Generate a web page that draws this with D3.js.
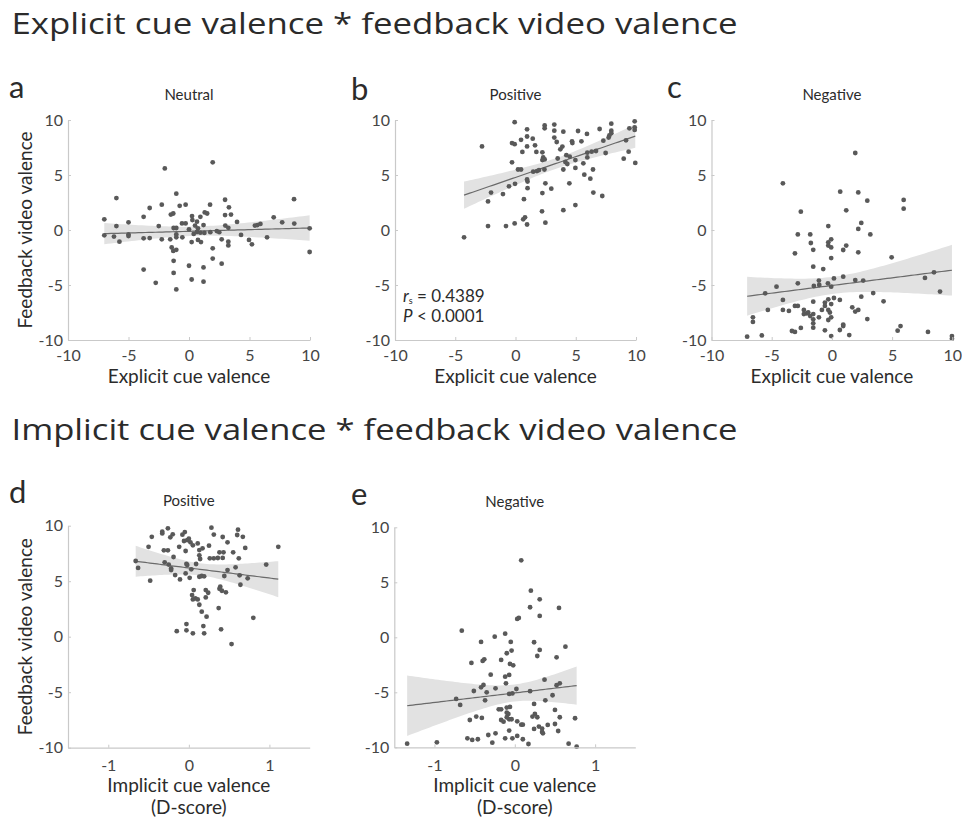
<!DOCTYPE html>
<html>
<head>
<meta charset="utf-8">
<script src="https://cdn.jsdelivr.net/npm/d3@7"></script>
<style>
  html, body { margin: 0; padding: 0; background: #fff; }
  svg { display: block; font-family: Lato, "Open Sans", sans-serif; }
</style>
</head>
<body>
<svg id="fig" width="962" height="823"></svg>
<script>
// Explicit cue valence vs feedback video valence, Neutral cues
const neutralPts = [
  [-7.0,0.97],[-6.0,2.9],[-6.0,0.36],[-5.0,0.7],[-3.75,1.2],[-3.25,2.0],[-2.5,0.36],[-2.25,2.3],
  [-2.0,5.6],[-1.5,1.4],[-1.3,1.5],[-1.05,3.3],[-0.77,2.2],[-0.28,2.3],[-1.27,0.18],[-1.05,0.18],
  [-0.58,0.6],[-0.28,0.6],[0,0.06],[0.25,1.27],[0.28,0.9],[0.5,0.4],[0.66,0.76],[0.74,0.15],
  [0.94,1.2],[1.2,0.45],[1.3,1.6],[1.5,1.5],[1.74,2.3],[1.96,6.15],[2.98,2.75],[2.98,1.36],
  [3.3,2.06],[3.47,1.4],[3.0,0.4],[3.25,0.2],[3.97,0.73],[5.45,0.4],[5.65,0.45],[5.9,0.55],
  [7.0,1.15],[7.7,0.7],[8.68,2.8],[8.7,0.58],[9.97,0.15],
  [-1.05,-0.4],[0.39,-0.36],[0.66,-0.18],[0.94,-0.24],[1.27,-0.27],[1.76,-0.2],[2.3,-0.1],[2.5,-0.2],
  [-7.0,-0.48],[-6.2,-0.6],[-5.75,-1.06],[-5.0,-0.4],[-5.0,-0.55],[-3.75,-0.76],[-3.25,-0.73],
  [-2.25,-0.85],[-1.55,-0.85],[-1.43,-1.58],[-1.3,-1.9],[-1.05,-1.8],[-1.05,-0.67],[-0.55,-0.67],
  [-1.27,-2.8],[-1.27,-3.9],[-3.75,-3.6],[-2.75,-4.8],[-1.05,-5.4],[0,-3.25],[0.22,-4.5],[0.22,-1.1],
  [0.74,-0.9],[0.99,-1.1],[1.2,-3.4],[1.2,-4.7],[1.96,-1.67],[1.96,-2.6],[2.7,-3.06],[2.7,-0.85],
  [3.25,-1.06],[3.25,-1.4],[4.3,-0.45],[4.96,-0.9],[5.2,-1.3],[6.45,-0.67],[9.97,-2.0]
];

// Explicit cue valence vs feedback video valence, Positive cues
const explicitPositivePts = [
  [-4.27,-0.67],[-2.78,7.6],[-2.28,2.6],[-2.28,0.36],[-2.03,3.4],[-1.04,3.27],[-0.79,0.36],[-0.54,3.97],
  [-0.29,6.15],[-0.29,7.9],[-0.07,7.8],[-0.07,9.8],[-0.07,0.6],[-0.04,4.2],[0.21,5.5],[0.46,5.5],
  [0.46,8.2],[0.57,7.1],[0.7,2.8],[0.64,0.97],[0.79,1.15],[0.96,0.5],[0.96,8.5],[0.96,9.15],
  [0.96,7.6],[0.96,4.6],[1.0,4.4],[1.0,3.8],[1.43,8.3],[1.62,7.7],[1.47,5.3],[1.78,5.36],
  [1.95,5.45],[1.73,7.1],[2.2,1.7],[2.23,3.36],[2.23,7.06],[2.23,6.36],[2.3,6.6],[2.4,5.5],
  [2.48,0.67],[2.48,4.24],[2.42,9.5],[2.42,9.24],[2.42,6.42],[2.97,3.76],[3.22,9.58],[3.22,9.03],
  [3.22,8.4],[3.42,8.0],[3.5,6.5],[3.72,7.33],[3.89,7.58],[3.97,8.94],[3.97,5.5],[3.97,1.8],
  [4.14,6.18],[4.22,6.8],[4.3,6.0],[4.5,6.67],[4.47,4.24],[4.69,8.06],[4.72,7.9],[4.97,6.36],
  [4.97,5.64],[4.97,2.27],[5.19,9.0],[5.47,8.06],[5.63,6.06],[5.71,5.03],[5.93,8.73],[5.96,7.03],
  [5.96,6.6],[6.21,4.67],[6.32,7.12],[6.43,5.5],[6.46,3.4],[6.68,7.18],[6.98,9.18],[7.2,3.09],
  [7.29,8.12],[7.48,7.0],[7.73,8.4],[7.79,8.6],[7.95,9.67],[7.95,9.03],[7.95,8.8],[8.98,6.48],
  [9.17,8.15],[9.39,7.12],[9.45,9.24],[9.89,9.88],[9.89,9.33],[9.89,9.1],[9.94,6.1]
];

// Explicit cue valence vs feedback video valence, Negative cues
const explicitNegativePts = [
  [-4.07,4.24],[-2.58,1.67],[-2.83,-0.4],[-1.8,-0.4],[-0.3,0.36],[0.69,3.48],[1.19,1.79],[1.94,7.0],
  [2.19,3.42],[2.44,0.64],[2.19,0.1],[2.94,2.67],[3.19,-0.4],[5.96,2.73],[5.96,1.94],
  [-1.75,-1.18],[-1.55,-1.8],[-3.07,-2.12],[-1.55,-3.33],[-0.72,-3.55],[-0.3,-1.12],[-0.3,-1.42],
  [-0.06,-0.85],[-0.06,-1.58],[-0.06,-2.55],[0.94,-1.82],[1.19,-1.42],[2.19,-2.03],[4.96,-2.48],
  [-4.6,-5.15],[-5.54,-5.76],[-7.04,-9.7],[-6.56,-7.94],[-6.56,-8.36],[-5.82,-9.58],[-5.32,-7.27],
  [-4.07,-6.36],[-4.07,-7.27],[-3.57,-7.36],[-3.32,-9.18],[-3.07,-9.27],[-2.58,-8.9],[-3.07,-6.9],
  [-2.83,-6.9],[-2.83,-4.85],[-2.33,-7.27],[-2.08,-7.58],[-1.97,-7.48],[-2.33,-7.64],[-1.8,-7.82],
  [-1.55,-7.64],[-1.55,-8.12],[-1.55,-8.48],[-1.55,-8.88],[-1.55,-6.52],[-1.5,-5.09],[-1.08,-4.6],
  [-1.05,-5.0],[-1.08,-7.94],[-0.83,-7.27],[-0.58,-6.6],[-0.58,-6.9],[-0.58,-9.12],[-0.33,-4.85],
  [-0.3,-6.3],[-0.3,-8.18],[-0.3,-7.27],[-0.17,-7.5],[-0.06,-5.15],[-0.06,-6.73],[-0.06,-7.94],
  [-0.06,-9.64],[0.17,-4.4],[0.17,-6.18],[0.66,-6.36],[0.66,-9.09],[0.94,-4.24],[0.94,-8.6],
  [0.94,-8.73],[1.44,-9.55],[1.69,-7.03],[1.94,-4.55],[1.94,-7.42],[2.19,-7.27],[2.44,-6.06],
  [2.6,-4.6],[2.94,-8.1],[3.43,-5.73],[4.29,-6.48],[5.46,-9.15],[5.7,-8.73],[7.73,-4.36],
  [7.98,-9.27],[8.48,-3.85],[8.98,-5.6],[9.97,-9.64],[9.97,-9.88]
];

// Implicit cue valence (D-score) vs feedback video valence, Positive cues
const implicitPositivePts = [
  [-0.66,6.82],[-0.63,6.2],[-0.5,8.1],[-0.48,5.05],[-0.46,9.0],[-0.33,9.46],[-0.33,9.3],[-0.31,7.78],
  [-0.26,7.78],[-0.26,9.76],[-0.23,8.95],[-0.2,9.22],[-0.3,6.7],[-0.25,6.5],[-0.22,6.15],[-0.22,6.0],
  [-0.19,7.18],[-0.17,5.55],[-0.11,5.16],[-0.12,8.1],[-0.08,9.19],[-0.05,9.43],[-0.06,8.62],[-0.04,7.72],
  [-0.02,8.7],[0.0,8.83],[0.02,8.5],[0.05,8.23],[-0.03,6.55],[-0.02,6.46],[-0.04,5.7],[0.01,5.3],
  [0.03,6.07],[0.09,6.55],[0.11,8.4],[0.13,7.8],[0.13,7.33],[0.14,7.0],[0.17,7.96],[0.13,5.4],
  [0.16,5.47],[0.19,5.44],[0.06,4.2],[0.04,3.75],[0.05,3.36],[0.08,3.45],[0.11,3.36],[0.13,2.88],
  [0.16,2.25],[0.22,1.8],[0.21,4.2],[0.24,3.96],[0.21,3.54],[0.26,7.06],[0.25,8.2],[0.28,9.82],
  [0.31,9.2],[0.31,7.06],[0.36,7.09],[0.38,7.6],[0.38,4.32],[0.39,4.5],[0.41,4.14],[0.46,4.0],
  [0.42,8.98],[0.48,8.5],[0.43,7.6],[0.42,7.1],[0.44,5.47],[0.48,6.0],[0.37,2.58],[0.55,7.6],
  [0.61,9.64],[0.6,9.16],[0.58,6.25],[0.62,7.06],[0.63,5.53],[0.67,9.0],[0.7,8.0],[0.64,4.68],
  [0.73,5.26],[0.8,1.7],[0.96,6.5],[1.11,8.1],[-0.15,0.5],[-0.03,1.14],[-0.03,0.57],[0.05,0.3],
  [0.18,0.96],[0.19,0.3],[0.4,0.66],[0.53,-0.66]
];

// Implicit cue valence (D-score) vs feedback video valence, Negative cues
const implicitNegativePts = [
  [-0.66,0.6],[-0.42,-0.42],[-0.25,0.06],[-0.12,0.33],[-0.05,-0.42],[0.08,7.0],[0.2,4.24],[0.31,3.45],
  [0.19,2.73],[0.31,1.94],[0.03,1.67],[0.05,1.76],[0.55,2.67],[0.24,-0.45],[0.63,-0.85],
  [0.31,-1.15],[0.28,-1.7],[0.52,-1.82],[-0.1,-1.45],[-0.04,-1.21],[-0.06,-2.42],[-0.02,-2.55],
  [-0.17,-2.06],[-0.38,-2.0],[-0.4,-2.15],[-0.54,-2.33],[-0.3,-3.4],[-0.12,-3.58],[-0.07,-3.42],
  [-0.11,-4.18],[-0.73,-5.6],[-0.68,-6.15],[-0.51,-4.88],[-0.42,-4.55],[-0.39,-4.33],[-0.35,-5.0],
  [-0.24,-4.64],[-0.37,-5.73],[-0.07,-5.15],[-0.03,-5.1],[0.02,-4.7],[0.19,-4.9],[0.37,-3.85],
  [0.47,-5.27],[0.52,-4.36],[0.56,-4.18],[0.38,-5.73],[0.24,-6.06],[0.5,-6.6],[0.56,-7.27],
  [0.25,-6.97],[0.28,-7.27],[0.22,-7.21],[-0.48,-7.21],[-0.41,-7.33],[-0.56,-7.52],[-0.2,-6.55],
  [-0.17,-6.55],[-0.1,-6.39],[-0.06,-6.33],[-0.1,-6.85],[-0.08,-6.97],[-0.1,-7.27],[-0.07,-7.45],
  [-0.04,-7.45],[-0.17,-7.52],[-0.14,-7.67],[0.03,-7.64],[0.08,-7.94],[0.1,-7.94],[-0.07,-8.48],
  [0.3,-8.12],[0.34,-8.3],[0.34,-8.6],[0.35,-8.73],[0.24,-8.33],[0.41,-7.97],[0.5,-7.88],
  [0.54,-8.52],[0.75,-7.36],[-0.46,-9.27],[-0.59,-9.18],[-0.53,-9.33],[-0.33,-8.88],[-0.24,-8.73],
  [-0.28,-9.58],[-0.12,-9.18],[-0.03,-9.18],[0.03,-8.97],[0.1,-9.27],[0.17,-9.7],[0.67,-9.67],
  [0.77,-9.94],[-1.34,-9.67],[-0.97,-9.55]
];

// Axis ticks
const explicitTicks = [-10, -5, 0, 5, 10];
const implicitTicks = [-1, 0, 1];
const valenceTicks = [-10, -5, 0, 5, 10];

// Headings and labels
const sectionTitles = ["Explicit cue valence * feedback video valence", "Implicit cue valence * feedback video valence"];
const panelLetters = ["a", "b", "c", "d", "e"];
const panelTitles = ["Neutral", "Positive", "Negative", "Positive", "Negative"];
const statLines = ["0.4389", "0.0001"];

const svg = d3.select("#fig");

const COL = {
  text: "#2b2b2b",
  tick: "#454545",
  axis: "#c9c9c9",
  dot: "#595959",
  fit: "#6a6a6a",
  band: "#e2e2e2"
};

// Least-squares line with 95% confidence band for the mean response
function regression(pts) {
  const n = pts.length;
  const mx = d3.mean(pts, d => d[0]);
  const my = d3.mean(pts, d => d[1]);
  let sxx = 0, sxy = 0;
  pts.forEach(([x, y]) => { sxx += (x - mx) ** 2; sxy += (x - mx) * (y - my); });
  const b = sxy / sxx, a = my - b * mx;
  let sse = 0;
  pts.forEach(([x, y]) => { sse += (y - a - b * x) ** 2; });
  const s = Math.sqrt(sse / (n - 2));
  const t = 1.987;
  const [x0, x1] = d3.extent(pts, d => d[0]);
  const xs = d3.range(0, 61).map(i => x0 + (x1 - x0) * i / 60);
  return xs.map(x => {
    const yhat = a + b * x;
    const half = t * s * Math.sqrt(1 / n + (x - mx) ** 2 / sxx);
    return { x, y: yhat, lo: yhat - half, hi: yhat + half };
  });
}

const panels = [
  { pts: neutralPts, xDomain: [-10, 10], xTicks: explicitTicks, left: 68, right: 310, top: 120, bottom: 340, yTitle: true, xTitle: ["Explicit cue valence"], lx: 9, ly: 98, ty: 100 },
  { pts: explicitPositivePts, xDomain: [-10, 10], xTicks: explicitTicks, left: 395, right: 636, top: 120, bottom: 340, yTitle: false, xTitle: ["Explicit cue valence"], lx: 351, ly: 100, ty: 100, stats: true },
  { pts: explicitNegativePts, xDomain: [-10, 10], xTicks: explicitTicks, left: 711.5, right: 952.3, top: 120, bottom: 340, yTitle: false, xTitle: ["Explicit cue valence"], lx: 667, ly: 98, ty: 100 },
  { pts: implicitPositivePts, xDomain: [-1.5, 1.5], xTicks: implicitTicks, left: 68, right: 309.7, top: 525.7, bottom: 747.7, yTitle: true, xTitle: ["Implicit cue valence", "(D-score)"], lx: 9, ly: 503, ty: 506 },
  { pts: implicitNegativePts, xDomain: [-1.5, 1.5], xTicks: implicitTicks, left: 394.3, right: 635.3, top: 527.3, bottom: 747.3, yTitle: false, xTitle: ["Implicit cue valence", "(D-score)"], lx: 351, ly: 505, ty: 507 }
];

// Section headings, set to span the figure width
[[33.5, sectionTitles[0]], [440, sectionTitles[1]]].forEach(([yy, t]) => {
  svg.append("text").attr("x", 11.5).attr("y", yy).attr("font-size", 30)
    .attr("font-family", "'Open Sans', Lato, sans-serif").attr("fill", COL.text)
    .attr("textLength", 726).attr("lengthAdjust", "spacingAndGlyphs").text(t);
});

panels.forEach((p, i) => {
  const x = d3.scaleLinear().domain(p.xDomain).range([p.left, p.right]);
  const y = d3.scaleLinear().domain([-10, 10]).range([p.bottom, p.top]);
  const g = svg.append("g");

  // panel letter and condition title
  svg.append("text").attr("x", p.lx).attr("y", p.ly).attr("font-size", 31).attr("fill", COL.text).text(panelLetters[i]);
  svg.append("text").attr("x", (p.left + p.right) / 2).attr("y", p.ty).attr("text-anchor", "middle")
    .attr("font-size", 15).attr("fill", COL.text).text(panelTitles[i]);

  // confidence band and fitted line
  const fit = regression(p.pts);
  g.append("path").datum(fit)
    .attr("d", d3.area().x(d => x(d.x)).y0(d => y(d.lo)).y1(d => y(d.hi)))
    .attr("fill", COL.band);
  g.append("path").datum(fit)
    .attr("d", d3.line().x(d => x(d.x)).y(d => y(d.y)))
    .attr("fill", "none").attr("stroke", COL.fit).attr("stroke-width", 1.2);

  // points
  g.selectAll("circle").data(p.pts).join("circle")
    .attr("cx", d => x(d[0])).attr("cy", d => y(d[1])).attr("r", 2.4)
    .attr("fill", COL.dot);

  // axes
  const xAxis = svg.append("g").attr("transform", `translate(0,${p.bottom})`)
    .call(d3.axisBottom(x).tickValues(p.xTicks).tickSizeInner(-3).tickSizeOuter(0).tickPadding(i < 3 ? 10 : 12)
      .tickFormat(d3.format("d")));
  const yAxis = svg.append("g").attr("transform", `translate(${p.left},0)`)
    .call(d3.axisLeft(y).tickValues(valenceTicks).tickSizeInner(-3).tickSizeOuter(0).tickPadding(5)
      .tickFormat(d3.format("d")));
  [xAxis, yAxis].forEach(ax => {
    ax.select(".domain").attr("stroke", COL.axis).attr("stroke-width", 1.2);
    ax.selectAll(".tick line").attr("stroke", COL.axis);
    ax.selectAll(".tick text").attr("font-size", 16).attr("fill", COL.tick)
      .attr("font-family", "Lato, 'Open Sans', sans-serif");
  });
  xAxis.selectAll(".tick text").text(d => d < 0 ? "-" + Math.abs(d) : d);
  yAxis.selectAll(".tick text").text(d => d < 0 ? "-" + Math.abs(d) : d);

  // axis titles
  const cx = x(0);
  const xt0 = i < 3 ? 383 : 792;
  p.xTitle.forEach((t, k) => {
    svg.append("text").attr("x", cx).attr("y", xt0 + k * 22).attr("text-anchor", "middle")
      .attr("font-size", 19).attr("fill", COL.text).text(t);
  });
  if (p.yTitle) {
    const my = (p.top + p.bottom) / 2;
    svg.append("text").attr("transform", `translate(32,${my}) rotate(-90)`)
      .attr("text-anchor", "middle").attr("font-size", 19).attr("fill", COL.text)
      .text("Feedback video valence");
  }

  // correlation statistics (one text block, two lines)
  if (p.stats) {
    const s = svg.append("text").attr("x", 403).attr("y", 302).attr("font-size", 17).attr("fill", COL.text);
    s.append("tspan").attr("font-style", "italic").text("r");
    s.append("tspan").attr("font-size", 9).attr("dy", 2).text("s");
    s.append("tspan").attr("dy", -2).text(" = " + statLines[0]);
    s.append("tspan").attr("x", 403).attr("dy", 20).attr("font-style", "italic").text("P");
    s.append("tspan").text(" < " + statLines[1]);
  }
});
</script>
</body>
</html>
